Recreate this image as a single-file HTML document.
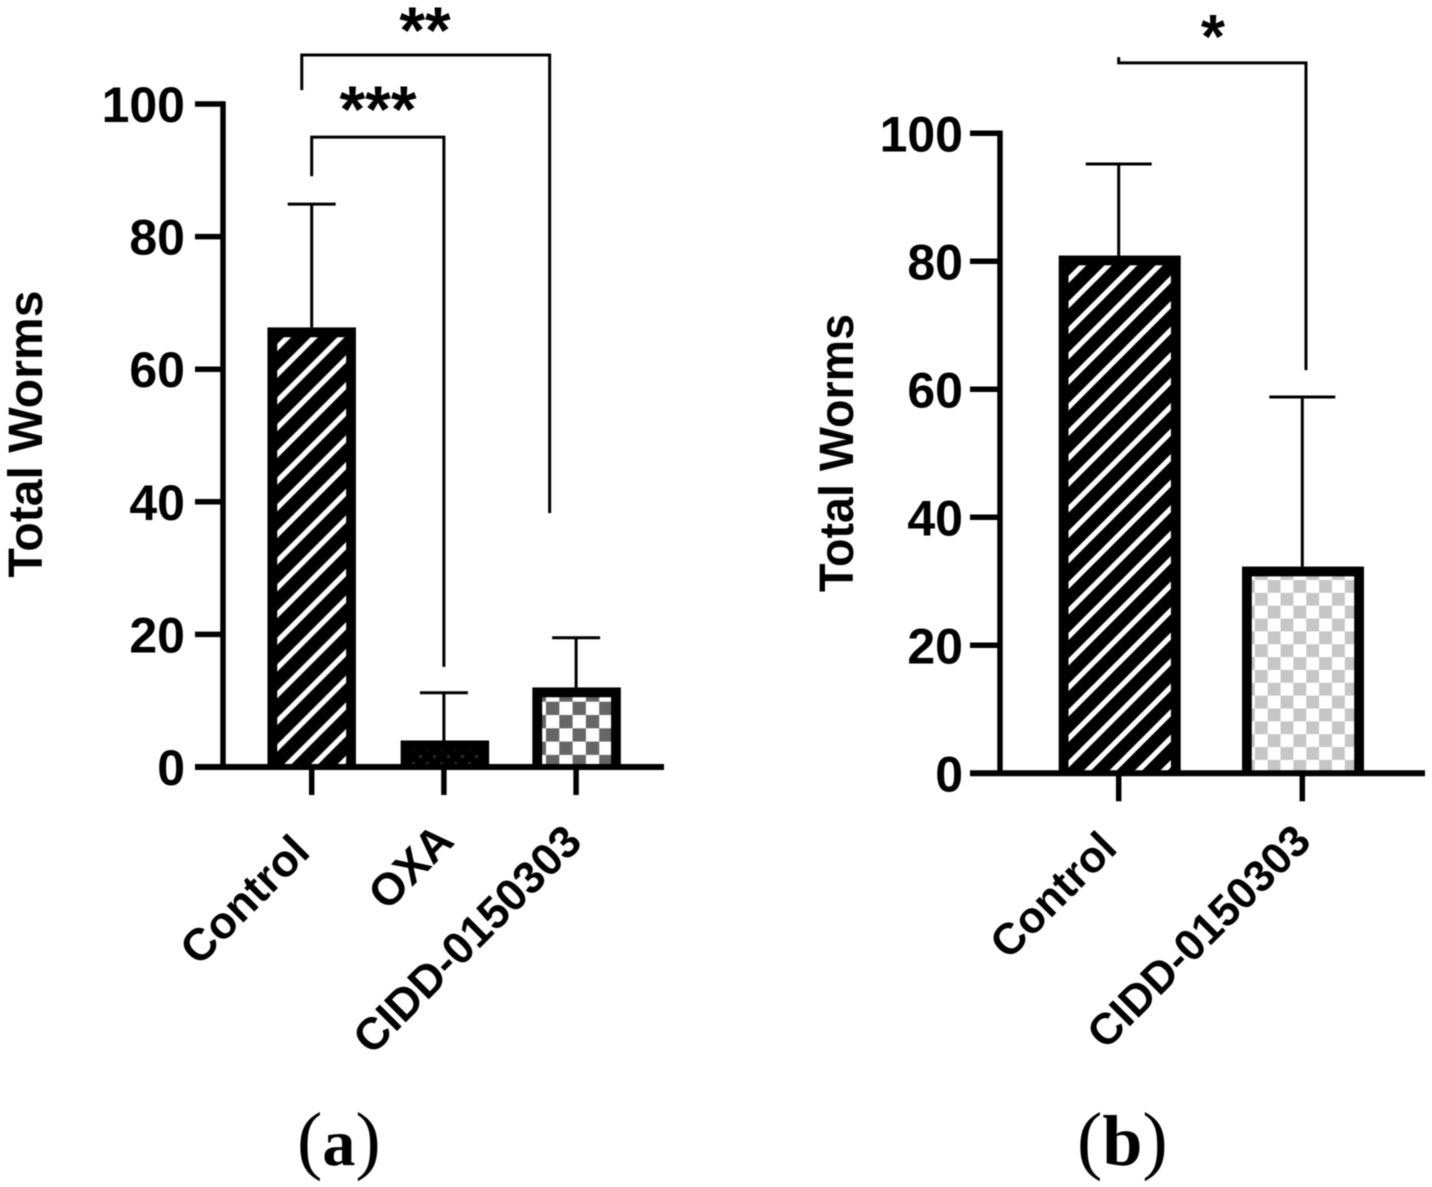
<!DOCTYPE html>
<html lang="en">
<head>
<meta charset="utf-8">
<title>Total Worms bar charts</title>
<style>
html,body{margin:0;padding:0;background:#fff;width:1432px;height:1187px;overflow:hidden}
svg{display:block;filter:blur(.45px)}
.sans{font-family:"Liberation Sans",Arial,sans-serif;font-weight:700;fill:#000}
.serif{font-family:"Liberation Serif","Times New Roman",serif;fill:#000}
</style>
</head>
<body>
<svg id="figure" xmlns="http://www.w3.org/2000/svg" width="1432" height="1187" viewBox="0 0 1432 1187">
  <defs>
    <pattern id="stripe-a" patternUnits="userSpaceOnUse" x="10.7" y="0" width="26.7" height="26.7">
      <rect width="26.7" height="26.7" fill="#000"/>
      <path d="M-4 4L4 -4M-4 30.7L30.7 -4M22.7 30.7L30.7 22.7" stroke="#fff" stroke-width="5.2"/>
    </pattern>
    <pattern id="stripe-b" patternUnits="userSpaceOnUse" x="22" y="0" width="25.5" height="25.5">
      <rect width="25.5" height="25.5" fill="#000"/>
      <path d="M-4 4L4 -4M-4 29.5L29.5 -4M21.5 29.5L29.5 21.5" stroke="#fff" stroke-width="5.2"/>
    </pattern>
    <pattern id="dots-a" patternUnits="userSpaceOnUse" x="412" y="748" width="14" height="14">
      <rect width="14" height="14" fill="#000"/>
      <rect x="0" y="0" width="3" height="3" fill="#2a2a2a"/>
      <rect x="7" y="7" width="3" height="3" fill="#2a2a2a"/>
    </pattern>
    <pattern id="check-a" patternUnits="userSpaceOnUse" x="546" y="701.7" width="26.6" height="26.6">
      <rect width="26.6" height="26.6" fill="#fff"/>
      <rect width="13.3" height="13.3" fill="#666"/>
      <rect x="13.3" y="13.3" width="13.3" height="13.3" fill="#666"/>
    </pattern>
    <pattern id="check-b" patternUnits="userSpaceOnUse" x="1267.7" y="580" width="25.7" height="25.7">
      <rect width="25.7" height="25.7" fill="#fff"/>
      <rect width="12.85" height="12.85" fill="#c6c6c6"/>
      <rect x="12.85" y="12.85" width="12.85" height="12.85" fill="#c6c6c6"/>
    </pattern>
  </defs>
  <g id="panel-a"></g>
  <g id="panel-b"></g>
  <text class="serif" x="297" y="1165" font-size="76">(<tspan font-weight="700" font-size="66">a</tspan>)</text>
  <text class="serif" x="1077" y="1165" font-size="76">(<tspan font-weight="700" font-size="72">b</tspan>)</text>
</svg>
<script>
// Chart data
const tickValues = [0, 20, 40, 60, 80, 100];
const categoriesA = ["Control", "OXA", "CIDD-0150303"];
const meansA = [66.3, 4.0, 12.0];
const errorTopsA = [84.9, 11.2, 19.5];
const categoriesB = ["Control", "CIDD-0150303"];
const meansB = [80.9, 32.3];
const errorTopsB = [95.2, 58.8];
// Significance brackets: category positions and y-values on the chart scale
const bracketStarsA = ["***", "**"];
const bracketFromCatA = [0, -0.075];
const bracketToCatA = [1, 1.8];
const bracketLevelA = [95, 107.4];
const bracketFromValA = [89.1, 102.1];
const bracketToValA = [15.1, 38.3];
const bracketStarsB = ["*"];
const bracketFromCatB = [0];
const bracketToCatB = [1.02];
const bracketLevelB = [111];
const bracketFromValB = [111.9];
const bracketToValB = [63];

const NS = "http://www.w3.org/2000/svg";
function make(parent, tag, attrs) {
  const el = document.createElementNS(NS, tag);
  for (const k in attrs) el.setAttribute(k, attrs[k]);
  parent.appendChild(el);
  return el;
}

function drawPanel(opt) {
  const root = document.getElementById(opt.rootId);
  const yScale = v => opt.y0 - v * opt.yUnit;
  const xScale = i => opt.x0 + i * opt.xStep;

  // Bars
  opt.categories.forEach((cat, i) => {
    const left = xScale(i) + opt.barShift[i] - opt.barW / 2;
    const top = yScale(opt.means[i]);
    const bar = make(root, "rect", { x: left, y: top, width: opt.barW, height: opt.y0 - top, fill: "#000" });
    
    
    const h = opt.y0 - top - opt.border;
    if (h > 0) {
      const fillRect = make(root, "rect", { x: left + opt.border, y: top + opt.border, width: opt.barW - 2 * opt.border, height: h, fill: "url(#" + opt.fills[i] + ")" });
      
      
    }
    // Error bar
    const errTop = yScale(opt.errorTops[i]);
    const cx = xScale(i);
    const stem = make(root, "line", { x1: cx, x2: cx, y1: top, y2: errTop, stroke: "#000", "stroke-width": 3 });
    
    
    const cap = make(root, "line", { x1: cx - opt.capHalf, x2: cx + opt.capHalf, y1: errTop, y2: errTop, stroke: "#000", "stroke-width": 3 });
    
    
    // X tick
    const tick = make(root, "line", { x1: cx, x2: cx, y1: opt.y0, y2: opt.y0 + opt.xTickLen, stroke: "#000", "stroke-width": 5.5 });
    
    
    // X label
    const lx = cx + opt.labelDx[i];
    const ly = opt.y0 + opt.labelDy[i];
    const label = make(root, "text", { class: "sans", x: lx, y: ly, "font-size": opt.labelSize, "text-anchor": "end", transform: "rotate(-45 " + lx + " " + ly + ")" });
    
    
    label.textContent = cat;
  });

  // Y axis
  const yAxis = make(root, "line", { x1: opt.axisX, x2: opt.axisX, y1: yScale(100) - 2.75, y2: opt.y0 + 2.75, stroke: "#000", "stroke-width": 5.5 });
  
  
  // X axis
  const xAxis = make(root, "line", { x1: opt.axisLeft, x2: opt.axisRight, y1: opt.y0, y2: opt.y0, stroke: "#000", "stroke-width": 6 });
  
  

  // Y ticks and labels
  tickValues.forEach(v => {
    const y = yScale(v);
    const t = make(root, "line", { x1: opt.axisLeft, x2: opt.axisX, y1: y, y2: y, stroke: "#000", "stroke-width": 5.5 });
    
    
    const lab = make(root, "text", { class: "sans", x: opt.axisLeft - opt.tickGap, y: y + 18, "font-size": opt.tickSize, "text-anchor": "end" });
    
    
    lab.textContent = String(v);
  });

  // Y title
  const title = make(root, "text", { class: "sans", x: 0, y: 0, "font-size": opt.titleSize, "text-anchor": "middle", textLength: opt.titleLen, lengthAdjust: "spacingAndGlyphs", transform: "translate(" + opt.titleX + " " + opt.titleY + ") rotate(-90)" });
  
  
  title.textContent = "Total Worms";

  // Significance brackets
  opt.stars.forEach((s, i) => {
    const xa = xScale(opt.fromCat[i]);
    const xb = xScale(opt.toCat[i]);
    const yl = yScale(opt.level[i]);
    const d = "M" + xa + " " + yScale(opt.fromVal[i]) + "V" + yl + "H" + xb + "V" + yScale(opt.toVal[i]);
    const path = make(root, "path", { d: d, fill: "none", stroke: "#000", "stroke-width": 3 });
    
    
    const star = make(root, "text", { class: "sans", x: opt.starX[i], y: yl + opt.starDy[i], "font-size": opt.starSize, "text-anchor": "middle" });
    
    
    star.textContent = s;
  });
}

drawPanel({
  rootId: "panel-a", y0: 767, yUnit: 6.63, x0: 311.7, xStep: 132.2,
  axisX: 223, axisLeft: 195, axisRight: 664, xTickLen: 28,
  barW: 88.5, border: 9.8, capHalf: 24, barShift: [0, 1, 0.5],
  fills: ["stripe-a", "dots-a", "check-a"],
  categories: categoriesA, means: meansA, errorTops: errorTopsA,
  labelDx: [0.3, 12, 8], labelDy: [87, 76, 77], labelSize: 45,
  tickSize: 50, tickGap: 10, titleSize: 48, titleLen: 287, titleX: 42, titleY: 434,
  stars: bracketStarsA, fromCat: bracketFromCatA, toCat: bracketToCatA,
  level: bracketLevelA, fromVal: bracketFromValA, toVal: bracketToValA,
  starX: [378, 425], starDy: [-5, -2], starSize: 66
});

drawPanel({
  rootId: "panel-b", y0: 773.3, yUnit: 6.4, x0: 1118.7, xStep: 183.6,
  axisX: 1000, axisLeft: 970, axisRight: 1425, xTickLen: 28,
  barW: 122, border: 9.8, capHalf: 33, barShift: [1, 0.7],
  fills: ["stripe-b", "check-b"],
  categories: categoriesB, means: meansB, errorTops: errorTopsB,
  labelDx: [0.3, 10.7], labelDy: [77, 70], labelSize: 44,
  tickSize: 50, tickGap: 7, titleSize: 48, titleLen: 278, titleX: 853, titleY: 453,
  stars: bracketStarsB, fromCat: bracketFromCatB, toCat: bracketToCatB,
  level: bracketLevelB, fromVal: bracketFromValB, toVal: bracketToValB,
  starX: [1213], starDy: [-5], starSize: 62
});
</script>
</body>
</html>
